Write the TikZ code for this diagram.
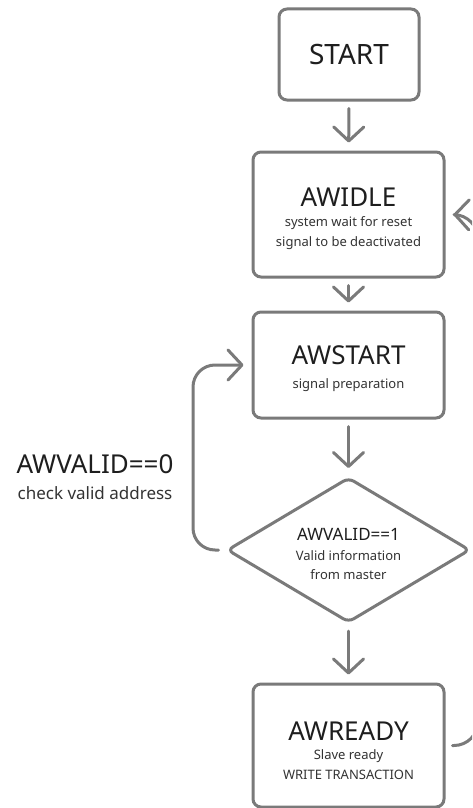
\documentclass[tikz,border=0pt]{standalone}
\usepackage{fontspec}
\setmainfont{Noto Sans}
\usetikzlibrary{arrows.meta,shapes.geometric}
\definecolor{stroke}{HTML}{7A7A7A}
\definecolor{ink}{HTML}{1E1E1E}
\definecolor{subink}{HTML}{333333}
\begin{document}
\begin{tikzpicture}[x=1pt,y=-1pt,
  box/.style={draw=stroke, line width=3pt, rounded corners=8pt, fill=white,
    inner sep=0pt, minimum width=191pt},
  decision/.style={draw=stroke, line width=3pt, rounded corners=6pt, fill=white,
    shape=diamond, aspect=1.676, inner sep=0pt,
    minimum width=243pt, minimum height=145pt},
  txt/.style={inner sep=0pt, anchor=base},
  title/.style={txt, text=ink, font=\fontsize{26}{28}\selectfont},
  sub/.style={txt, text=subink, font=\fontsize{13}{16}\selectfont},
  dtitle/.style={txt, text=ink, font=\fontsize{17}{20}\selectfont},
  flow/.style={draw=stroke, line width=3pt, line cap=round, line join=round,
    -{Straight Barb[length=14pt,width=30pt,round]},
    shorten >=8pt, shorten <=7pt},
]
\path[use as bounding box] (0,0) rectangle (472,808);
\clip (0,0) rectangle (472,808);

% state boxes
\node[box, minimum width=140pt, minimum height=91pt] (start) at (349,54.5) {};
\node[box, minimum height=125pt] (awidle) at (348.5,214.5) {};
\node[box, minimum height=106pt] (awstart) at (348.5,365) {};
\node[decision] (valid) at (348.5,550) {};
\node[box, minimum height=123pt] (awready) at (348.5,745.5) {};

% box texts
\node[title, font=\fontsize{28}{30}\selectfont] (startT) at (349,65) {START};
\node[title] (awidleT) at (348.5,206) {AWIDLE};
\node[sub] (awidleS1) at (348.5,226.5) {system wait for reset};
\node[sub] (awidleS2) at (348.5,246.5) {signal to be deactivated};
\node[title] (awstartT) at (348.5,364.5) {AWSTART};
\node[sub] (awstartS) at (348.5,388) {signal preparation};
\node[dtitle] (validT) at (348.5,540) {AWVALID==1};
\node[sub] (validS1) at (348.5,560) {Valid information};
\node[sub] (validS2) at (348.5,579.5) {from master};
\node[title] (awreadyT) at (348.5,740) {AWREADY};
\node[sub] (awreadyS1) at (348.5,759) {Slave ready};
\node[sub] (awreadyS2) at (348.5,779.5) {WRITE TRANSACTION};

% loop label
\node[txt, text=ink, font=\fontsize{26}{28}\selectfont] (retryT) at (95,473) {AWVALID==0};
\node[txt, text=subink, font=\fontsize{17}{20}\selectfont] (retryS) at (95,499) {check valid address};

% transitions
\coordinate (loopL) at (193,365);
\coordinate (loopR) at (478,215);
\draw[flow] (start) -- (awidle);
\draw[flow] (awidle) -- (awstart);
\draw[flow] (awstart) -- (valid);
\draw[flow] (valid) -- (awready);
\draw[flow, rounded corners=22pt] (valid.west) -| (loopL) -- (awstart.west);
\draw[flow, rounded corners=24pt] (awready.east) -| (loopR) -- (awidle.east);
\end{tikzpicture}
\end{document}
